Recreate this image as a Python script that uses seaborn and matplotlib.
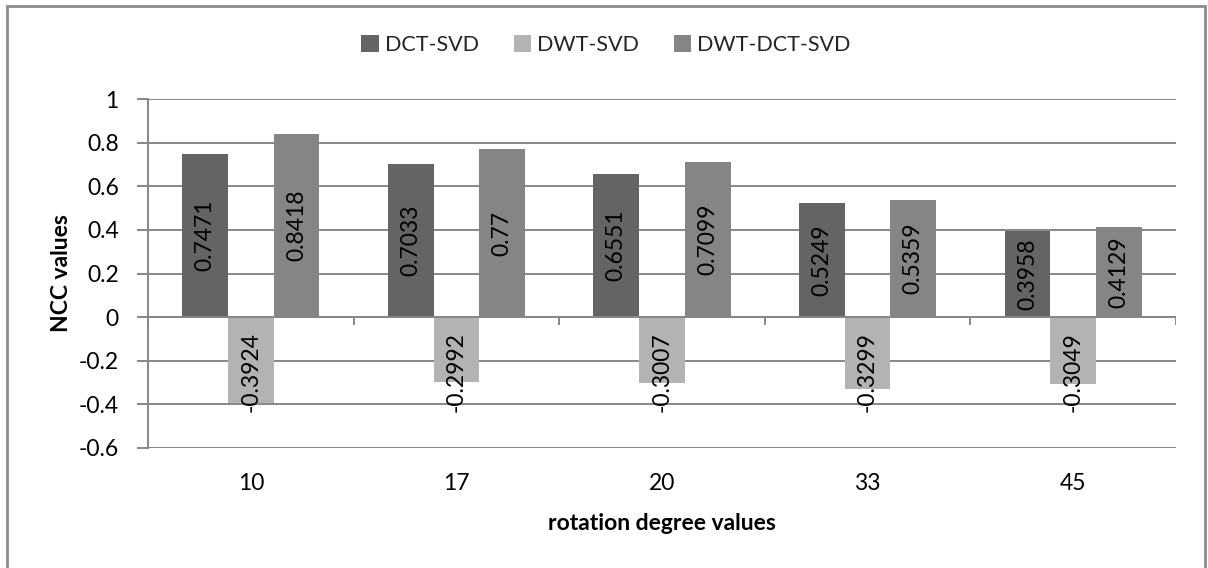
import matplotlib
matplotlib.use("Agg")
import matplotlib.pyplot as plt
from matplotlib.patches import Rectangle
import seaborn as sns
import pandas as pd

# Rotation attack results: NCC per method
angles = ["10", "17", "20", "33", "45"]
methods = ["DCT-SVD", "DWT-SVD", "DWT-DCT-SVD"]
dct_svd = [0.7471, 0.7033, 0.6551, 0.5249, 0.3958]
dwt_svd = [-0.3924, -0.2992, -0.3007, -0.3299, -0.3049]
dwt_dct_svd = [0.8418, 0.77, 0.7099, 0.5359, 0.4129]
yticks = [1, 0.8, 0.6, 0.4, 0.2, 0, -0.2, -0.4, -0.6]

colors = ["#646464", "#B3B3B3", "#858585"]
grid_col = "#878787"

sns.set_theme(style="white")
plt.rcParams["font.family"] = ["Lato", "DejaVu Sans"]

rows = []
for m, vals in zip(methods, [dct_svd, dwt_svd, dwt_dct_svd]):
    for a, v in zip(angles, vals):
        rows.append({"angle": a, "method": m, "ncc": v})
df = pd.DataFrame(rows)

fig = plt.figure(figsize=(12.08, 5.68), dpi=100)
ax = fig.add_axes([148 / 1208, 1 - 448 / 568, (1176 - 148) / 1208, (448 - 99) / 568])

sns.barplot(data=df, x="angle", y="ncc", hue="method", order=angles,
            hue_order=methods, palette=colors, width=0.667, gap=0,
            saturation=1, edgecolor="none", linewidth=0, legend=True, ax=ax, zorder=2)

ax.set_ylim(-0.6, 1)
ax.set_xlim(-0.5, len(angles) - 0.5)
ax.set_yticks(yticks)
ax.set_yticklabels([f"{t:g}" for t in yticks])
for t in yticks:
    ax.axhline(t, color=grid_col, lw=1.4, zorder=0)

# category axis line at zero with boundary tick marks
ax.axhline(0, color=grid_col, lw=1.4, zorder=3)
ax.vlines([i - 0.5 for i in range(len(angles) + 1)], -0.035, 0,
          color=grid_col, lw=1.4, zorder=3)

for s in ["top", "right", "bottom"]:
    ax.spines[s].set_visible(False)
ax.spines["left"].set_color(grid_col)
ax.spines["left"].set_linewidth(1.4)
ax.spines["left"].set_zorder(4)

ax.tick_params(axis="y", length=8, width=1.4, color=grid_col, pad=13,
               labelsize=16.5, labelcolor="black", left=True)
ax.tick_params(axis="x", length=0, pad=18, labelsize=16.5, labelcolor="black")

# value labels, rotated inside the bars
for container in ax.containers:
    for bar in container:
        h = bar.get_height()
        xc = bar.get_x() + bar.get_width() / 2
        if h >= 0:
            ax.text(xc, h / 2, f"{h:g}", rotation=90, ha="center", va="center",
                    fontsize=16.5, color="black", zorder=5)
        else:
            ax.text(xc, -0.07, f"{h:g}", rotation=90, ha="center", va="top",
                    fontsize=16.5, color="black", zorder=5)

ax.set_xlabel("rotation degree values", fontsize=16.5, fontweight="bold",
              color="black", labelpad=14)
ax.set_ylabel("NCC values", fontsize=16.5, fontweight="bold", color="black",
              labelpad=5)

handles, labels = ax.get_legend_handles_labels()
ax.get_legend().remove()
fig.legend(handles, labels, loc="center", bbox_to_anchor=(606 / 1208, 1 - 45 / 568),
           ncol=3, frameon=False, fontsize=15.5, handlelength=0.8, handleheight=0.8,
           handletextpad=0.3, columnspacing=1.6)

# chart frame
fig.patches.append(Rectangle((6.5 / 1208, -0.02), (1205 - 6.5) / 1208, 1.02 - 5.5 / 568,
                             transform=fig.transFigure, fill=False,
                             edgecolor="#8c8c8c", lw=2))

fig.savefig("out.png", dpi=100)
